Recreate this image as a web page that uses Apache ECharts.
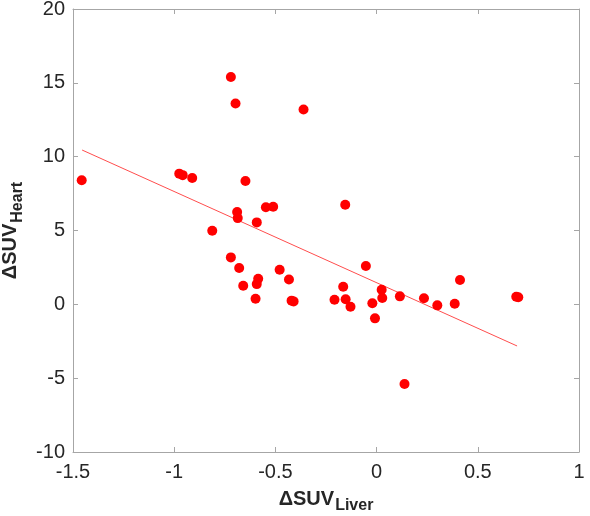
<!DOCTYPE html>
<html>
<head>
<meta charset="utf-8">
<script src="https://cdn.jsdelivr.net/npm/echarts@6/dist/echarts.min.js"></script>
<style>
    html, body {margin: 0; padding: 0; background: #fff;}
    #chart {width: 590px; height: 516px;}
</style>
</head>
<body>
<div id="chart"></div>
<script>
// ΔSUV liver (x) vs ΔSUV heart (y)
var liver = [-0.72, -0.697, -0.361, -1.457, -0.975, -0.958, -0.911, -0.648, -0.547, -0.511,
    -0.155, -0.689, -0.686, -0.592, -0.812, -0.72, -0.679, -0.479, -0.053, -0.585,
    -0.592, -0.659, -0.433, -0.165, 0.025, 0.028, 0.115, 0.234, 0.3, 0.386,
    0.412, 0.69, 0.70, -0.598, -0.42, -0.41, -0.208, -0.153, -0.129, -0.021,
    -0.008, 0.138];
var heart = [15.4, 13.6, 13.2, 8.4, 8.85, 8.75, 8.55, 8.35, 6.57, 6.61,
    6.74, 6.25, 5.84, 5.55, 4.98, 3.18, 2.46, 2.34, 2.59, 1.73,
    1.37, 1.26, 1.68, 1.19, 0.99, 0.43, 0.54, 0.41, -0.07, 0.04,
    1.65, 0.51, 0.48, 0.38, 0.25, 0.2, 0.31, 0.34, -0.16, 0.07,
    -0.95, -5.4];
// regression line end points
var fitX = [-1.455, 0.694];
var fitY = [10.45, -2.82];

var xTicks = {min: -1.5, max: 1, interval: 0.5};
var yTicks = {min: -10, max: 20, interval: 5};

var pts = [];
for (var i = 0; i < liver.length; i++) {
    pts.push([liver[i], heart[i]]);
}
var fit = [];
for (var j = 0; j < fitX.length; j++) {
    fit.push([fitX[j], fitY[j]]);
}

var frame = '#a6a6a6';
var font = 'Liberation Sans, Arial, sans-serif';
var ink = '#262626';

function axisBase(pos, showLabel, ticks, margin) {
    return {
        type: 'value',
        position: pos,
        min: ticks.min,
        max: ticks.max,
        interval: ticks.interval,
        splitLine: {show: false},
        axisLine: {show: true, onZero: false, lineStyle: {color: frame, width: 1}},
        axisTick: {show: true, inside: true, length: 5, lineStyle: {color: frame}},
        axisLabel: {show: showLabel, color: ink, fontSize: 20, fontFamily: font, margin: margin}
    };
}

function titleRich(sub) {
    return {
        rich: {
            a: {fontSize: 20, fontWeight: 'bold', color: ink, fontFamily: font},
            b: {fontSize: 16, fontWeight: 'bold', color: ink, fontFamily: font, padding: [14, 0, 0, 1]}
        }
    };
}

var xb = axisBase('bottom', true, xTicks, 10);
xb.name = '{a|ΔSUV}{b|Liver}';
xb.nameLocation = 'middle';
xb.nameGap = 32;
xb.nameTextStyle = titleRich();
var xt = axisBase('top', false, xTicks, 8);

var yl = axisBase('left', true, yTicks, 8);
yl.name = '{a|ΔSUV}{b|Heart}';
yl.nameLocation = 'middle';
yl.nameGap = 44;
yl.nameRotate = 90;
yl.nameTextStyle = titleRich();
var yr = axisBase('right', false, yTicks, 8);

var myChart = echarts.init(document.getElementById('chart'));
var option = {
    animation: false,
    backgroundColor: '#fff',
    grid: {left: 73, right: 11, top: 9, bottom: 64, containLabel: false, outerBoundsMode: 'none'},
    xAxis: [xb, xt],
    yAxis: [yl, yr],
    series: [
        {
            type: 'line',
            data: fit,
            showSymbol: false,
            symbol: 'none',
            lineStyle: {color: '#ff4d4d', width: 1},
            z: 1
        },
        {
            type: 'scatter',
            data: pts,
            symbolSize: 10,
            itemStyle: {color: '#ff0000', opacity: 1},
            z: 2
        }
    ]
};
myChart.setOption(option);
</script>
</body>
</html>
